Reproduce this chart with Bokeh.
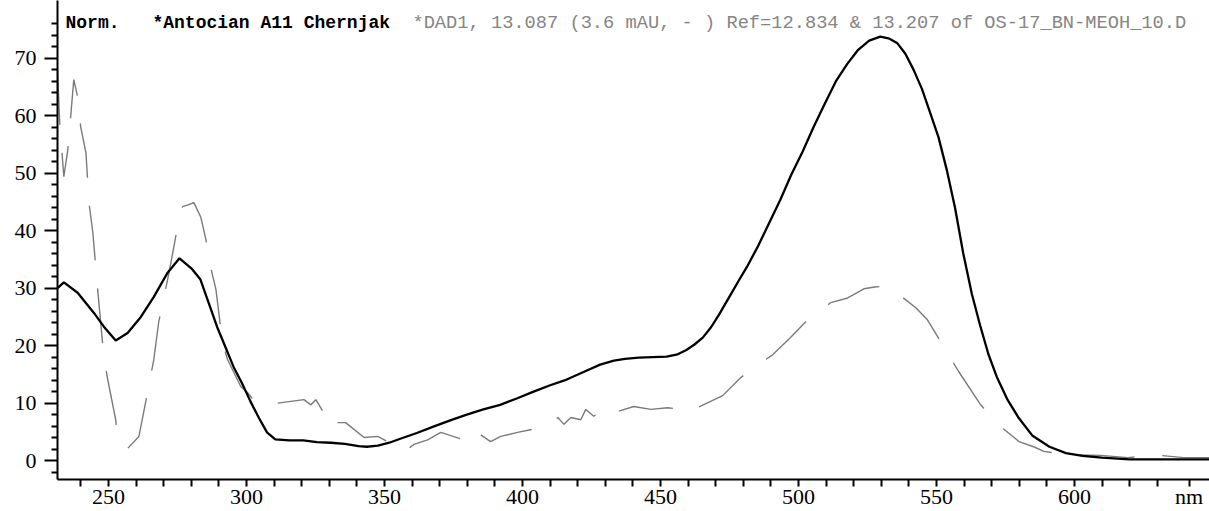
from bokeh.plotting import figure
from bokeh.models import Range1d, FixedTicker, Label
from bokeh.embed import file_html
from bokeh.resources import INLINE

# UV-Vis spectrum of the sample peak (solid black)
sample_nm = [231.5, 233.8, 238.8, 244.7, 248.3, 252.6, 256.9, 261.7, 266.4, 271.4,
             275.7, 280.3, 283.3, 286.3, 289.3, 292.3, 295.3, 298.4, 301.4, 304.4,
             307.4, 310.4, 315.5, 320.5, 325.5, 330.5, 335.6, 340.6, 343.6, 347.6,
             351.7, 355.7, 361.7, 367.7, 373.8, 379.8, 385.8, 391.9, 397.9, 404.0,
             410.0, 416.0, 422.1, 428.1, 433.1, 437.1, 442.1, 447.2, 452.2, 456.2,
             459.2, 462.3, 465.3, 468.3, 471.3, 475.3, 478.3, 481.3, 485.4, 489.4,
             493.4, 497.4, 501.5, 505.5, 509.5, 513.5, 517.6, 521.6, 525.6, 529.6,
             532.6, 535.7, 538.7, 541.7, 544.7, 547.7, 550.7, 553.7, 556.7, 559.7,
             562.8, 565.8, 568.8, 571.8, 575.8, 579.8, 584.8, 590.9, 596.9, 602.9,
             609.9, 619.9, 632.0, 648.9]
sample_au = [30.0, 31.0, 29.2, 25.7, 23.3, 20.9, 22.2, 25.0, 28.5, 32.7,
             35.2, 33.3, 31.5, 27.4, 23.3, 19.8, 16.3, 13.4, 10.3, 7.5,
             4.9, 3.7, 3.5, 3.5, 3.2, 3.1, 2.9, 2.5, 2.4, 2.6,
             3.1, 3.8, 4.8, 5.9, 7.0, 8.0, 8.9, 9.7, 10.8, 12.0,
             13.1, 14.1, 15.4, 16.7, 17.4, 17.7, 17.9, 18.0, 18.1, 18.5,
             19.2, 20.2, 21.4, 23.2, 25.5, 28.8, 31.3, 33.7, 37.4, 41.4,
             45.4, 49.8, 53.8, 58.1, 62.1, 66.0, 69.0, 71.5, 73.1, 73.8,
             73.5, 72.7, 70.8, 68.0, 64.7, 60.5, 56.3, 50.6, 44.0, 36.0,
             29.0, 23.5, 18.5, 14.6, 10.5, 7.4, 4.3, 2.4, 1.3, 0.8,
             0.5, 0.2, 0.2, 0.2]

# Reference spectrum (dashed grey)
ref_nm = [231.5, 232.3, 233.8, 235.2, 236.3, 237.4, 238.8, 239.9, 241.8, 242.9,
          244.3, 246.1, 248.3, 249.7, 252.6, 253.3, 256.9, 261.0, 264.2, 266.4,
          268.2, 271.4, 273.2, 275.0, 276.8, 278.8, 280.9, 283.4, 285.3, 286.3,
          288.9, 291.3, 293.1, 297.9, 300.4, 303.4, 307.7, 311.3, 320.8, 323.3,
          325.1, 328.0, 330.5, 331.5, 333.0, 335.9, 342.6, 347.5, 351.1, 355.9,
          358.7, 360.6, 365.6, 370.4, 378.7, 381.2, 384.8, 388.4, 392.1, 398.2,
          408.5, 412.8, 415.0, 417.5, 421.1, 422.9, 425.8, 429.1, 430.9, 440.3,
          446.5, 452.6, 457.3, 460.9, 463.4, 472.5, 479.0, 482.7, 490.6, 497.1,
          502.7, 511.7, 517.8, 523.7, 527.6, 532.3, 542.5, 546.7, 551.5, 558.0,
          566.0, 572.2, 579.9, 585.2, 588.9, 597.6, 609.5, 619.3, 628.7, 639.6,
          648.9]
ref_au = [68.0, 58.8, 49.4, 54.0, 60.0, 66.3, 63.3, 58.1, 53.6, 44.9,
          39.7, 29.5, 18.0, 14.1, 7.1, 4.0, 2.1, 4.2, 12.0, 17.6,
          24.2, 31.5, 36.0, 40.7, 44.2, 44.5, 44.9, 42.4, 38.4, 35.0,
          29.8, 20.5, 17.6, 12.9, 11.8, 10.0, 9.7, 10.0, 10.6, 9.7,
          10.6, 8.3, 9.2, 7.5, 6.6, 6.6, 4.0, 4.2, 3.3, 3.6,
          2.1, 2.8, 3.6, 4.9, 3.6, 2.6, 4.5, 3.3, 4.2, 4.9,
          5.9, 7.5, 6.3, 7.5, 7.1, 8.9, 7.7, 8.9, 8.0, 9.4,
          8.9, 9.2, 8.9, 9.7, 9.2, 11.3, 14.4, 15.8, 18.4, 21.4,
          24.2, 27.5, 28.3, 29.9, 30.2, 30.4, 26.6, 24.5, 20.7, 15.5,
          9.7, 6.3, 3.3, 2.4, 1.6, 1.0, 0.9, 0.5, 1.0, 0.5,
          0.5]

x_major = [250, 300, 350, 400, 450, 500, 550, 600]
x_unit_pos = 641.5
x_unit_text = "nm"
y_major = [0, 10, 20, 30, 40, 50, 60, 70]

header_norm = "Norm."
header_sample = "*Antocian A11 Chernjak"
header_ref = "*DAD1, 13.087 (3.6 mAU, - ) Ref=12.834 & 13.207 of OS-17_BN-MEOH_10.D"

p = figure(width=1209, height=511, output_backend="svg", toolbar_location=None,
           x_range=Range1d(231.5, 648.9), y_range=Range1d(-3.3, 80.08),
           min_border_left=57, min_border_right=0, min_border_top=0,
           min_border_bottom=28, background_fill_color="white",
           border_fill_color="white", outline_line_color=None)
p.grid.visible = False

xa = p.xaxis[0]
xa.ticker = FixedTicker(ticks=x_major + [x_unit_pos],
                        minor_ticks=[t for t in range(240, 640, 10) if t % 50])
xa.major_label_overrides = {x_unit_pos: x_unit_text}
ya = p.yaxis[0]
ya.ticker = FixedTicker(ticks=y_major,
                        minor_ticks=[t for t in range(-2, 78, 2) if t % 10])

for ax in (xa, ya):
    ax.axis_line_width = 2
    ax.axis_line_color = "black"
    ax.major_tick_line_width = 2
    ax.minor_tick_line_width = 2
    ax.major_tick_in = 0
    ax.minor_tick_in = 0
    ax.major_label_text_font = "Liberation Serif"
    ax.major_label_text_font_size = "22px"
    ax.major_label_text_color = "black"

xa.major_tick_out = 7
xa.minor_tick_out = 7
xa.major_label_standoff = -3
ya.major_tick_out = 13
ya.minor_tick_out = 6
ya.major_label_standoff = 8

p.line(ref_nm, ref_au, line_color="#7a7a7a", line_width=1.4, line_dash="55 28")
p.line(sample_nm, sample_au, line_color="black", line_width=2.3)

# header line: detector / sample description
head_y = 76.2
for hx, txt, bold, col, size in [(234.4, header_norm, True, "black", "18px"),
                                 (265.9, header_sample, True, "black", "18px"),
                                 (360.1, header_ref, False, "#858585", "18.7px")]:
    p.add_layout(Label(x=hx, y=head_y, text=txt, text_font="Liberation Mono",
                       text_font_style="bold" if bold else "normal",
                       text_font_size=size, text_color=col,
                       text_baseline="alphabetic"))

open("out.html", "w").write(file_html(p, INLINE))
